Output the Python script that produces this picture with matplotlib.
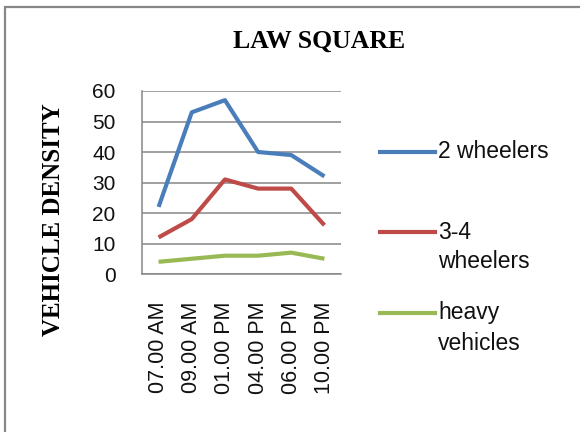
import matplotlib
matplotlib.use("Agg")
import matplotlib.pyplot as plt
from matplotlib.lines import Line2D
from matplotlib.patches import Rectangle

times = ["07.00 AM", "09.00 AM", "01.00 PM", "04.00 PM", "06.00 PM", "10.00 PM"]
two_wheelers = [22, 53, 57, 40, 39, 32]
three_four_wheelers = [12, 18, 31, 28, 28, 16]
heavy_vehicles = [4, 5, 6, 6, 7, 5]
series_labels = [["2 wheelers"], ["3-4", "wheelers"], ["heavy", "vehicles"]]
y_ticks = [0, 10, 20, 30, 40, 50, 60]
colors = ["#4A7EBB", "#BE4B48", "#98B954"]

W, H = 580, 432
fig = plt.figure(figsize=(5.8, 4.32), dpi=100)
fig.patch.set_facecolor("white")

def fx(px):
    return px / W

def fy(py):
    return 1 - py / H

# outer border (only top and left visible in reference)
fig.add_artist(Rectangle((fx(5), fy(470)), fx(700), fy(7) - fy(470),
                         transform=fig.transFigure, fill=False,
                         edgecolor="#878787", linewidth=1.6))

ax = fig.add_axes([fx(142), fy(274), fx(341) - fx(142), fy(91) - fy(274)])
x = list(range(len(times)))
for vals, c in zip([two_wheelers, three_four_wheelers, heavy_vehicles], colors):
    ax.plot(x, vals, color=c, linewidth=3.0, solid_capstyle="butt", zorder=3)

ax.set_xlim(-0.5, len(times) - 0.5)
ax.set_ylim(0, 60)
ax.set_yticks(y_ticks)
ax.set_xticks(x)
ax.set_xticklabels(times, rotation=90, fontsize=15.5, family="Liberation Sans")
ax.set_yticklabels([str(v) for v in y_ticks], fontsize=15, family="Liberation Sans")
ax.tick_params(axis="both", length=0, colors="#111111")
ax.tick_params(axis="y", pad=19)
ax.tick_params(axis="x", pad=20)
ax.yaxis.grid(True, color="#868686", linewidth=1.1)
ax.set_axisbelow(True)
for s in ["top", "right"]:
    ax.spines[s].set_visible(False)
for s in ["left", "bottom"]:
    ax.spines[s].set_color("#868686")
    ax.spines[s].set_linewidth(1.1)

fig.text(fx(319), fy(41.5), "LAW SQUARE", ha="center", va="center",
         fontsize=18.5, fontweight="bold", family="Liberation Serif")
fig.text(fx(54), fy(220), "VEHICLE DENSITY", ha="center", va="center",
         rotation=90, fontsize=18, fontweight="bold", family="Liberation Serif")

# legend
entry_y = [152, 232, 313]
line_gap = 30
for lines, c, yy in zip(series_labels, colors, entry_y):
    fig.add_artist(Line2D([fx(380), fx(435)], [fy(yy), fy(yy)],
                          transform=fig.transFigure, color=c, linewidth=3.0))
    for i, t in enumerate(lines):
        fig.text(fx(438), fy(yy + i * line_gap), t, ha="left", va="center",
                 fontsize=16.5, family="Liberation Sans", color="#111111")

fig.savefig("out.png", dpi=100)
